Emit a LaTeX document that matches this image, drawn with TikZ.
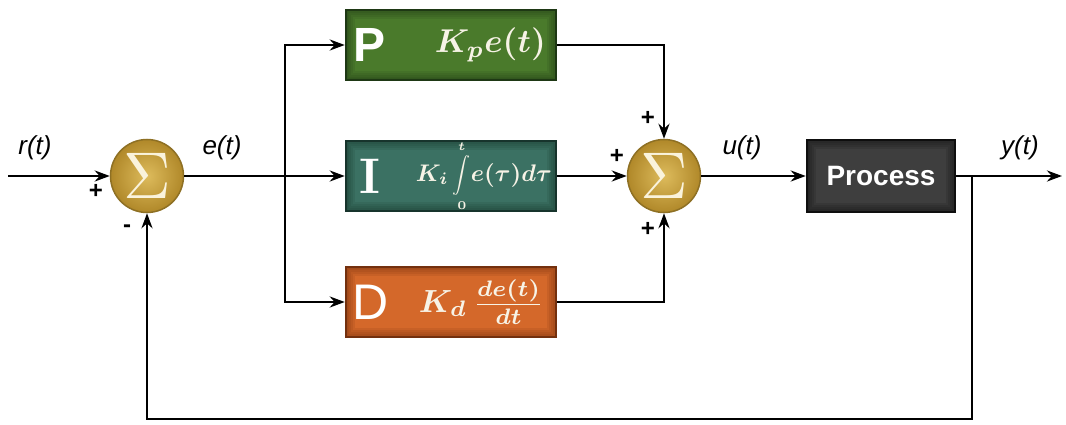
\documentclass[tikz,border=0pt]{standalone}
\usepackage{graphicx}
\usepackage{fontspec}
\setsansfont{Liberation Sans}
\usetikzlibrary{arrows.meta,calc}

\definecolor{pgreen}{HTML}{4A7A2B}
\definecolor{pgreenD}{HTML}{1E3814}
\definecolor{iteal}{HTML}{3B7163}
\definecolor{itealD}{HTML}{17342C}
\definecolor{dorange}{HTML}{D4682A}
\definecolor{dorangeD}{HTML}{73300E}
\definecolor{procfill}{HTML}{3E3E3E}
\definecolor{procD}{HTML}{0E0E0E}
\definecolor{sumin}{HTML}{DDBB5C}
\definecolor{sumout}{HTML}{B08829}
\definecolor{sumD}{HTML}{8E7024}
\definecolor{sigmacol}{HTML}{FAF3DC}
\definecolor{boxtext}{HTML}{F7F3E6}

\tikzset{
  sumnode/.style={circle, minimum size=73pt, inner sep=0pt, draw=sumD, line width=1.5pt,
    shading=radial, inner color=sumin, outer color=sumout},
  blockbox/.style={rectangle, minimum width=210pt, minimum height=70pt, inner sep=0pt, line width=2.5pt},
  % soft darkening towards the edges of a block
  innerglow/.style={path picture={
      \foreach \w in {18,14,10,6,3}
        \draw[#1, opacity=0.13, line width=\w pt] (path picture bounding box.south west) rectangle (path picture bounding box.north east);}},
  boxletter/.style={text=white, inner sep=0pt},
  formula/.style={text=boxtext, inner sep=0pt, anchor=east},
  siglabel/.style={font=\sffamily\itshape\fontsize{26}{28}\selectfont, inner sep=0pt},
  signmark/.style={font=\sffamily\bfseries\fontsize{24}{26}\selectfont, inner sep=0pt},
  wire/.style={line width=2.8pt, black},
  arr/.style={wire, -{Stealth[length=15pt,width=11pt]}}
}

\begin{document}
\begin{tikzpicture}[x=1pt,y=-1pt]
\useasboundingbox (0,0) rectangle (1066,425);

% summing junctions
\node[sumnode] (s1) at (147,176) {\color{sigmacol}\scalebox{6.6}{$\Sigma$}};
\node[sumnode] (s2) at (664,176) {\color{sigmacol}\scalebox{6.6}{$\Sigma$}};

% P, I, D blocks
\node[blockbox, fill=pgreen, draw=pgreenD, innerglow=pgreenD] (P) at (451,45) {};
\node[blockbox, fill=iteal, draw=itealD, innerglow=itealD] (I) at (451,176) {};
\node[blockbox, fill=dorange, draw=dorangeD, innerglow=dorangeD] (D) at (451,302) {};
\node[boxletter, font=\sffamily\bfseries\fontsize{48}{50}\selectfont] (Pl) at (370,45) {P};
\node[boxletter, font=\rmfamily\bfseries\fontsize{50}{52}\selectfont] (Il) at (370,176) {I};
\node[boxletter, font=\sffamily\fontsize{50}{52}\selectfont] (Dl) at (371,302) {D};
\node[formula] (Pf) at (546,45) {\scalebox{3.3}{\boldmath$K_{p}e(t)$}};
\node[formula] (If) at (552,176) {\scalebox{2.4}{\boldmath$K_{i}\mathop{\vcenter{\hbox{\scalebox{0.75}{$\displaystyle\int$}}}}\limits_{\scriptscriptstyle 0}^{\scriptscriptstyle t}\! e(\tau)d\tau$}};
\node[formula] (Df) at (544,302) {\scalebox{3.2}{\boldmath$K_{d}\,\frac{de(t)}{dt}$}};

% plant
\node[blockbox, minimum width=148pt, minimum height=72pt, fill=procfill, draw=procD, innerglow=procD,
      text=white, font=\sffamily\bfseries\fontsize{28}{30}\selectfont] (Proc) at (881,176) {Process};

% wiring
\coordinate (in) at (8,176);
\coordinate (split) at (285,176);
\coordinate (tap) at (972,176);
\coordinate (out) at (1062,176);
\coordinate (fb) at (972,419);

\draw[arr] (in) -- (s1.west);
\draw[wire] (s1.east) -- (split);
\draw[arr] (split) -- (I.west);
\draw[arr] (split) |- (P.west);
\draw[arr] (split) |- (D.west);
\draw[arr] (P.east) -| (s2.north);
\draw[arr] (I.east) -- (s2.west);
\draw[arr] (D.east) -| (s2.south);
\draw[arr] (s2.east) -- (Proc.west);
\draw[arr] (Proc.east) -- (out);
\draw[arr] (tap) -- (fb) -| (s1.south);

% signal labels
\node[siglabel] (rl) at (35,148) {r(t)};
\node[siglabel] (el) at (222,148) {e(t)};
\node[siglabel] (ul) at (742,148) {u(t)};
\node[siglabel] (yl) at (1020,148) {y(t)};

% signs at the junctions
\node[signmark] (s1a) at (96,191) {+};
\node[signmark] (s1b) at (127,229) {-};
\node[signmark] (s2a) at (648,118) {+};
\node[signmark] (s2b) at (617,156) {+};
\node[signmark] (s2c) at (648,229) {+};
\end{tikzpicture}
\end{document}
